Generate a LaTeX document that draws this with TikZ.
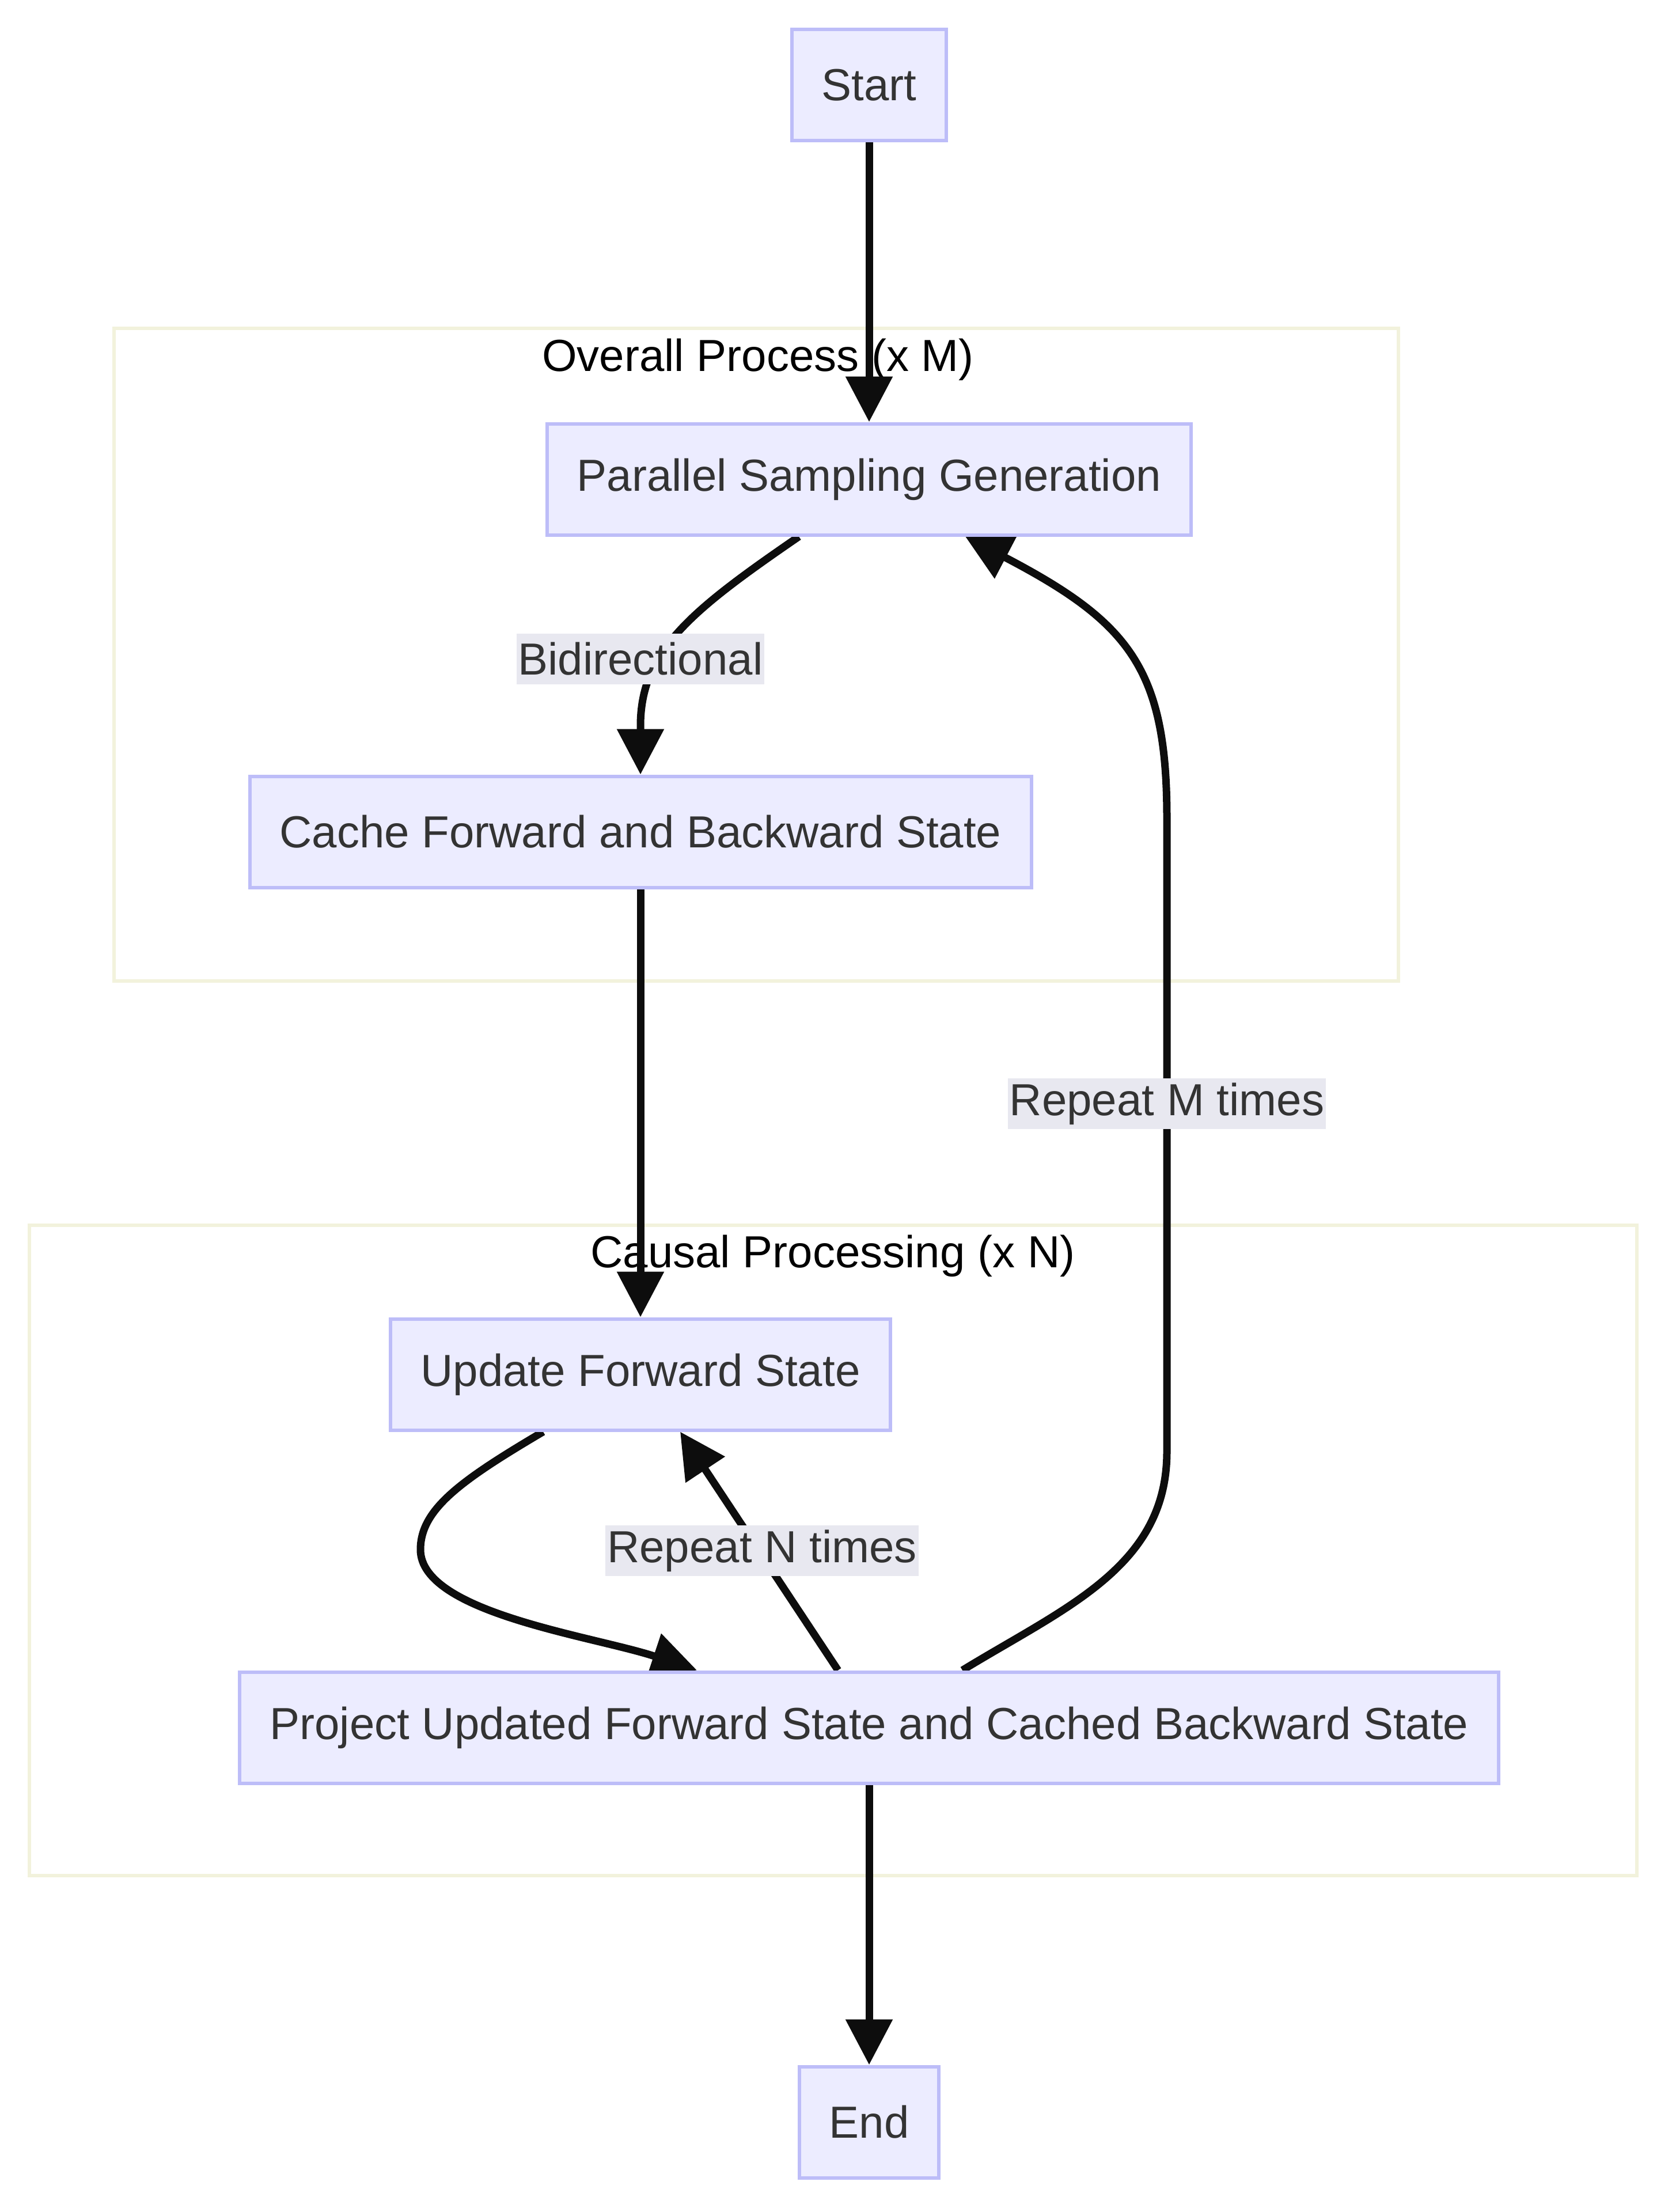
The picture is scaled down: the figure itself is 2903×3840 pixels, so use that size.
\documentclass[tikz,border=0pt]{standalone}
\usepackage{fontspec}
\setmainfont{Liberation Sans}
\usetikzlibrary{arrows.meta}
\pgfdeclarelayer{clusterlayer}
\pgfdeclarelayer{edgelayer}
\pgfsetlayers{clusterlayer,edgelayer,main}
\definecolor{nodefill}{RGB}{236,236,255}
\definecolor{nodeborder}{RGB}{189,189,248}
\definecolor{clusterborder}{RGB}{242,242,220}
\definecolor{labelbg}{RGB}{232,232,240}
\definecolor{textgray}{RGB}{51,51,51}
\definecolor{edgecol}{RGB}{13,13,13}
\newcommand{\dfont}{\fontsize{78}{94}\selectfont}
\tikzset{
  box/.style={draw=nodeborder, fill=nodefill, line width=6pt, text=textgray,
    minimum height=193pt, inner xsep=52pt, inner ysep=0pt, font=\dfont},
  elabel/.style={fill=labelbg, text=textgray, inner xsep=3pt, inner ysep=0pt,
    minimum height=88pt, font=\dfont},
  cluster/.style={draw=clusterborder, line width=6pt, fill=white},
  ctitle/.style={text=black, inner sep=0pt, font=\dfont, anchor=base},
  edge/.style={line width=13pt, draw=edgecol, -{Triangle[length=79pt,width=79pt]}},
}
\begin{document}
\begin{tikzpicture}[x=1pt,y=-1pt]
\useasboundingbox (0,0) rectangle (2903,3840);
% nodes
\node[box] (start) at (1509,148) {Start};
\node[box] (par) at (1509,832) {Parallel Sampling Generation};
\node[box] (cache) at (1112,1444) {Cache Forward and Backward State};
\node[box] (upd) at (1112,2386) {Update Forward State};
\node[box] (proj) at (1509,2999) {Project Updated Forward State and Cached Backward State};
\node[box] (end) at (1509,3684) {End};
% edge labels
\node[elabel] (l1) at (1112,1144) {Bidirectional};
\node[elabel] (l2) at (2026,1916) {Repeat M times};
\node[elabel] (l3) at (1323,2692) {Repeat N times};
% clusters
\begin{pgfonlayer}{clusterlayer}
\draw[cluster] (198,570) rectangle (2428,1703);
\draw[cluster] (51,2127) rectangle (2842,3256);
\node[ctitle] (t1) at (1316,644) {Overall Process (x M)};
\node[ctitle] (t2) at (1446,2200) {Causal Processing (x N)};
\end{pgfonlayer}
% edges
\begin{pgfonlayer}{edgelayer}
\draw[edge] (start.south) -- (par.north);
\draw[edge] ([xshift=-122pt]par.south) .. controls (1200,1060) and (1112,1130) .. (1112,1260) -- (cache.north);
\draw[edge] (cache.south) -- (upd.north);
\draw[edge] ([xshift=-169pt]upd.south) .. controls (800,2570) and (730,2620) .. (730,2690)
  .. controls (730,2800) and (1030,2840) .. ([xshift=-299pt]proj.north);
\draw[edge] ([xshift=-54pt]proj.north) -- ([xshift=69pt]upd.south);
\draw[edge] ([xshift=162pt]proj.north) .. controls (1850,2790) and (2026,2720) .. (2026,2520)
  -- (2026,1420) .. controls (2026,1160) and (1960,1080) .. ([xshift=167pt]par.south);
\draw[edge] (proj.south) -- (end.north);
\end{pgfonlayer}
\end{tikzpicture}
\end{document}
